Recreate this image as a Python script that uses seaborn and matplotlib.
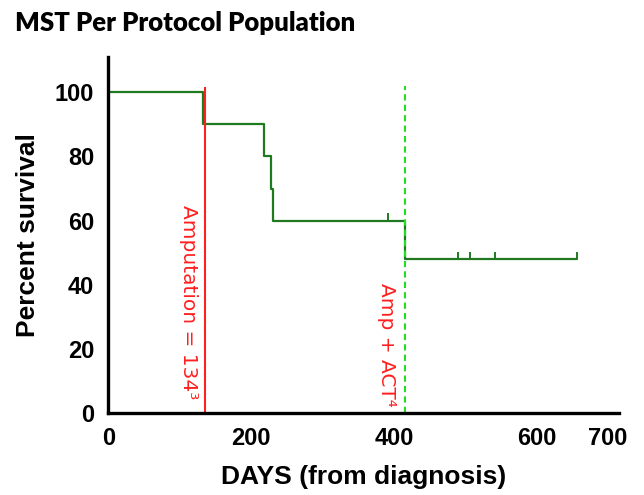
import matplotlib
matplotlib.use("Agg")
import matplotlib.pyplot as plt
import seaborn as sns
import pandas as pd

# Kaplan-Meier steps (days, percent survival)
step_days = [0, 133, 218, 228, 231, 415, 657]
step_surv = [100, 90, 80, 70, 60, 48, 48]

# censored patients (tick marks)
censor_days = [392, 490, 506, 541, 657]
censor_surv = [60, 48, 48, 48, 48]

amputation_day = 135
amp_act_day = 416

xticks = [0, 200, 400, 600, 700]
yticks = [0, 20, 40, 60, 80, 100]

curve = pd.DataFrame({"days": step_days, "survival": step_surv})

sns.set_style("white")
plt.rcParams["font.family"] = ["Liberation Sans", "DejaVu Sans"]
plt.rcParams.update({"text.color": "black", "axes.labelcolor": "black",
                     "xtick.color": "black", "ytick.color": "black"})

fig = plt.figure(figsize=(6.44, 4.95), dpi=100)
ax = fig.add_axes([0.168, 0.165, 0.793, 0.72])

green = "#1f7a1f"
sns.lineplot(data=curve, x="days", y="survival", drawstyle="steps-post",
             color=green, linewidth=1.6, ax=ax)
# censor marks sit on top of the curve
ax.vlines(censor_days, censor_surv, [s + 2.3 for s in censor_surv],
          color=green, linewidth=1.4)

# event lines
ax.vlines(amputation_day, 0, 101.5, color="#ff2020", linewidth=1.5)
ax.vlines(amp_act_day, 0, 102, color="#22dd22", linewidth=1.5,
          linestyles=(0, (3, 2)))

ax.text(amputation_day - 22, 65, "Amputation = 134\u00b3", color="#ff2020",
        rotation=270, ha="center", va="top", fontsize=14.5,
        family="DejaVu Sans")
ax.text(amp_act_day - 26, 40.5, "Amp + ACT\u2074", color="#ff2020",
        rotation=270, ha="center", va="top", fontsize=14.5,
        family="DejaVu Sans")

ax.set_xlim(0, 715)
ax.set_ylim(0, 111)
ax.set_xticks(xticks)
ax.set_yticks(yticks)
ax.tick_params(axis="both", direction="out", length=5, width=2.2,
               labelsize=17, pad=5, color="black", labelcolor="black")
for lab in ax.get_xticklabels() + ax.get_yticklabels():
    lab.set_fontweight("bold")

sns.despine(ax=ax)
for side in ["left", "bottom"]:
    ax.spines[side].set_linewidth(2.4)
    ax.spines[side].set_color("black")

ax.set_xlabel("DAYS (from diagnosis)", fontsize=19, fontweight="bold")
ax.set_ylabel("Percent survival", fontsize=19, fontweight="bold")
ax.xaxis.set_label_coords(0.5, -0.145)
ax.yaxis.set_label_coords(-0.134, 0.5)

fig.text(0.023, 0.978, "MST Per Protocol Population", fontsize=18.5,
         fontweight="heavy", family="Lato", va="top", ha="left")

fig.savefig("out.png", dpi=100)
